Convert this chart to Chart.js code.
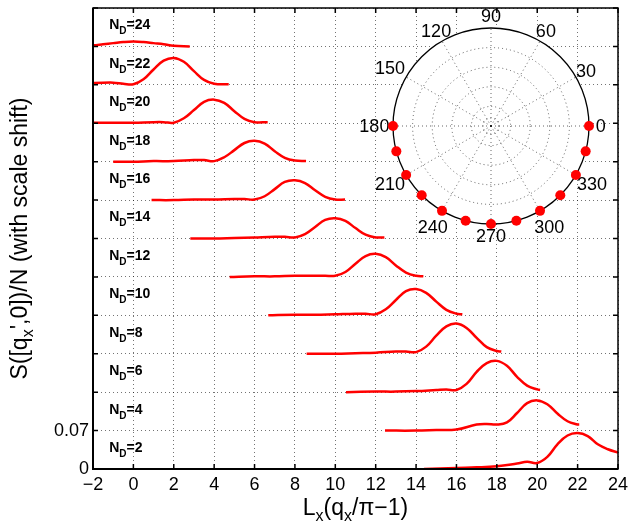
<!DOCTYPE html>
<html>
<head>
<meta charset="utf-8">
<script src="https://cdn.jsdelivr.net/npm/chart.js@4/dist/chart.umd.min.js"></script>
<style>
body { margin: 0; background: #fff; }
#wrap { width: 631px; height: 526px; position: relative; }
</style>
</head>
<body>
<div id="wrap"><canvas id="sfChart"></canvas></div>
<script>
// structure factor peaks, one curve per N_D, each shifted up by 0.07
const nD = [2, 4, 6, 8, 10, 12, 14, 16, 18, 20, 22, 24];
const peakPos = [22, 20, 18, 16, 14, 12, 10, 8, 6, 4, 2, 0];
const xStart = [14.39, 12.46, 10.53, 8.58, 6.68, 4.77, 2.82, 0.9, -1.0, -2.93, -4.86, -6.79];
const xEnd = [24.1, 22.08, 20.14, 18.22, 16.29, 14.36, 12.43, 10.48, 8.55, 6.65, 4.72, 2.79];
const shiftStep = 0.07;
// inner sample offsets from the peak position
const dxGrid = [-6, -5, -4, -3, -2.5, -2, -1.5, -1, -0.5, 0, 0.5, 1, 1.5, 2];

// values: [at xStart, ...at dxGrid..., at xEnd]
const sfND2  = [0, 0.002, 0.003, 0.005, 0.010, 0.013, 0.011, 0.022, 0.045, 0.061, 0.0655, 0.06, 0.045, 0.036, 0.030, 0.029];
const sfND4  = [0, 0, 0.001, 0.002, 0.011, 0.012, 0.011, 0.015, 0.032, 0.050, 0.055, 0.048, 0.031, 0.017, 0.011, 0.011];
const sfND6  = [0, 0.001, 0.001, 0.002, 0.004, 0.005, 0.004, 0.015, 0.037, 0.053, 0.057, 0.048, 0.028, 0.012, 0.005, 0.004];
const sfND8  = [0, 0, 0.001, 0.002, 0.004, 0.004, 0.003, 0.013, 0.033, 0.050, 0.055, 0.047, 0.029, 0.012, 0.005, 0.004];
const sfND10 = [0, 0.001, 0.001, 0.002, 0.003, 0.003, 0.002, 0.011, 0.028, 0.044, 0.048, 0.041, 0.025, 0.010, 0.003, 0.002];
const sfND12 = [0, 0.001, 0.001, 0.002, 0.002, 0.002, 0.002, 0.009, 0.024, 0.038, 0.042, 0.036, 0.021, 0.008, 0.002, 0.001];
const sfND14 = [0, 0, 0.001, 0.002, 0.003, 0.003, 0.002, 0.008, 0.021, 0.034, 0.037, 0.032, 0.019, 0.007, 0.002, 0.002];
const sfND16 = [0, 0, 0.001, 0.001, 0.002, 0.002, 0.001, 0.007, 0.020, 0.033, 0.036, 0.031, 0.018, 0.006, 0.001, 0.001];
const sfND18 = [0, 0, 0.001, 0.001, 0.003, 0.003, 0.001, 0.008, 0.021, 0.034, 0.038, 0.033, 0.019, 0.007, 0.002, 0.001];
const sfND20 = [0, 0.001, 0.001, 0.001, 0.002, 0.002, 0.001, 0.009, 0.024, 0.039, 0.043, 0.037, 0.022, 0.008, 0.002, 0.002];
const sfND22 = [0, 0, 0, 0.003, 0.004, 0.002, 0.001, 0.010, 0.028, 0.044, 0.049, 0.042, 0.025, 0.009, 0.002, 0.001];
const sfND24 = [0, 0, 0, 0, 0, 0.001, 0.002, 0.004, 0.006, 0.008, 0.009, 0.008, 0.006, 0.004, 0.001, 0];
const curves = [sfND2, sfND4, sfND6, sfND8, sfND10, sfND12, sfND14, sfND16, sfND18, sfND20, sfND22, sfND24];

const xTicks = [-2, 0, 2, 4, 6, 8, 10, 12, 14, 16, 18, 20, 22, 24];
const yTickLabels = ['0', '0.07'];

// polar inset
const dotAngles = [180, 195, 210, 225, 240, 255, 270, 285, 300, 315, 330, 345, 360];
const polarTickAngles = [0, 30, 60, 90, 120, 150, 180, 210, 240, 270, 300, 330];
const polarRings = [0.08, 0.2, 0.4, 0.6, 0.8];

const FONT = "'Liberation Sans', Arial, sans-serif";
const RED = '#ff0000';
const rad = a => a * Math.PI / 180;

const datasets = curves.map((vals, i) => {
	const xs = [xStart[i]].concat(dxGrid.map(d => peakPos[i] + d), [xEnd[i]]);
	return {
		data: xs.map((x, j) => ({ x: x, y: i * shiftStep + vals[j] })),
		borderColor: RED,
		borderWidth: 2.5,
		pointRadius: 0,
		tension: 0.4,
		xAxisID: 'x',
		yAxisID: 'y',
	};
});
datasets.push({
	data: dotAngles.map(a => ({ x: Math.cos(rad(a)), y: Math.sin(rad(a)) })),
	showLine: false,
	pointRadius: 5,
	pointBackgroundColor: RED,
	pointBorderColor: RED,
	pointBorderWidth: 0,
	xAxisID: 'xP',
	yAxisID: 'yP',
});

// draw a run of text pieces, some as subscripts
function textRun(ctx, parts, x, y, align) {
	let w = 0;
	parts.forEach(p => { ctx.font = p.font; w += ctx.measureText(p.t).width; });
	let cx = align === 'center' ? x - w / 2 : x;
	ctx.textAlign = 'left';
	ctx.textBaseline = 'alphabetic';
	parts.forEach(p => {
		ctx.font = p.font;
		ctx.fillText(p.t, cx, y + (p.dy || 0));
		cx += ctx.measureText(p.t).width;
	});
}

const decor = {
	id: 'decor',
	beforeDatasetsDraw(chart) {
		const ctx = chart.ctx;
		const xp = chart.scales.xP, yp = chart.scales.yP;
		const cx = xp.getPixelForValue(0), cy = yp.getPixelForValue(0);
		const r = xp.getPixelForValue(1) - cx;
		ctx.save();
		ctx.fillStyle = '#fff';
		ctx.beginPath();
		ctx.arc(cx, cy, r, 0, Math.PI * 2);
		ctx.fill();
		ctx.strokeStyle = 'rgba(0,0,0,0.6)';
		ctx.lineWidth = 1;
		ctx.setLineDash([1, 3]);
		polarRings.forEach(k => {
			ctx.beginPath();
			ctx.arc(cx, cy, r * k, 0, Math.PI * 2);
			ctx.stroke();
		});
		polarTickAngles.forEach(a => {
			ctx.beginPath();
			ctx.moveTo(cx, cy);
			ctx.lineTo(cx + r * Math.cos(rad(a)), cy - r * Math.sin(rad(a)));
			ctx.stroke();
		});
		ctx.setLineDash([]);
		ctx.strokeStyle = '#000';
		ctx.lineWidth = 1.3;
		ctx.beginPath();
		ctx.arc(cx, cy, r, 0, Math.PI * 2);
		ctx.stroke();
		ctx.fillStyle = '#000';
		ctx.font = '18px ' + FONT;
		ctx.textAlign = 'center';
		ctx.textBaseline = 'middle';
		polarTickAngles.forEach(a => {
			const k = a > 135 && a < 225 || a > 195 && a < 345 && a !== 270 ? 1.19 : 1.12;
			ctx.fillText(String(a), cx + r * k * Math.cos(rad(a)), cy - r * k * Math.sin(rad(a)) + 1);
		});
		ctx.restore();
	},
	afterDraw(chart) {
		const ctx = chart.ctx;
		const { left, right, top, bottom } = chart.chartArea;
		const xs = chart.scales.x, ys = chart.scales.y;
		ctx.save();
		// frame with inward ticks
		ctx.strokeStyle = '#000';
		ctx.lineWidth = 1.5;
		ctx.strokeRect(left, top, right - left, bottom - top);
		ctx.beginPath();
		xTicks.forEach(v => {
			const px = xs.getPixelForValue(v);
			ctx.moveTo(px, bottom); ctx.lineTo(px, bottom - 5);
			ctx.moveTo(px, top); ctx.lineTo(px, top + 5);
		});
		ys.ticks.forEach(t => {
			const py = ys.getPixelForValue(t.value);
			ctx.moveTo(left, py); ctx.lineTo(left + 5, py);
			ctx.moveTo(right, py); ctx.lineTo(right - 5, py);
		});
		ctx.stroke();
		ctx.lineWidth = 2;
		ctx.beginPath();
		ctx.moveTo(left, top); ctx.lineTo(left, bottom); ctx.lineTo(right, bottom);
		ctx.stroke();
		// N_D labels
		ctx.fillStyle = '#000';
		const bold = 'bold 14px ' + FONT, boldSub = 'bold 10px ' + FONT;
		nD.forEach((n, i) => {
			const px = xs.getPixelForValue(-1.2);
			const py = ys.getPixelForValue(i * shiftStep + 0.031);
			textRun(ctx, [
				{ t: 'N', font: bold },
				{ t: 'D', font: boldSub, dy: 5 },
				{ t: '=' + n, font: bold },
			], px, py, 'left');
		});
		// axis titles
		const big = '23px ' + FONT, small = '16px ' + FONT;
		textRun(ctx, [
			{ t: 'L', font: big },
			{ t: 'x', font: small, dy: 6 },
			{ t: '(q', font: big },
			{ t: 'x', font: small, dy: 6 },
			{ t: '/\u03c0\u22121)', font: big },
		], (left + right) / 2, 515, 'center');
		ctx.translate(27, (top + bottom) / 2);
		ctx.rotate(-Math.PI / 2);
		textRun(ctx, [
			{ t: 'S([q', font: big },
			{ t: 'x', font: small, dy: 6 },
			{ t: '\',0])/N (with scale shift)', font: big },
		], 0, 0, 'center');
		ctx.restore();
	},
};

const gridStyle = { color: 'rgba(0,0,0,0.55)', lineWidth: 1, drawTicks: false };

new Chart(document.getElementById('sfChart'), {
	type: 'line',
	data: { datasets: datasets },
	options: {
		responsive: true,
		maintainAspectRatio: false,
		animation: false,
		layout: { padding: { top: 8, right: 13, left: 0, bottom: 0 } },
		plugins: { legend: { display: false }, tooltip: { enabled: false } },
		scales: {
			x: {
				type: 'linear', min: -2, max: 24,
				grid: gridStyle,
				border: { display: false, dash: [1, 3] },
				ticks: {
					stepSize: 2, padding: 5, color: '#000',
					font: { family: FONT, size: 18 },
					callback: v => v < 0 ? '\u2212' + Math.abs(v) : String(v),
				},
				afterFit: s => { s.height = 57; s.paddingLeft = 0; s.paddingRight = 0; },
			},
			y: {
				type: 'linear', min: 0, max: 0.84,
				grid: gridStyle,
				border: { display: false, dash: [1, 3] },
				ticks: {
					stepSize: 0.07, padding: 4, color: '#000',
					font: { family: FONT, size: 18 },
					callback: (v, i) => yTickLabels[i] || '',
				},
				afterFit: s => { s.width = 93; s.paddingTop = 0; s.paddingBottom = 0; },
			},
			xP: { type: 'linear', display: false, min: -4.0612, max: 1.2959 },
			yP: { type: 'linear', display: false, min: -3.5, max: 1.2041 },
		},
	},
	plugins: [decor],
});
</script>
</body>
</html>
